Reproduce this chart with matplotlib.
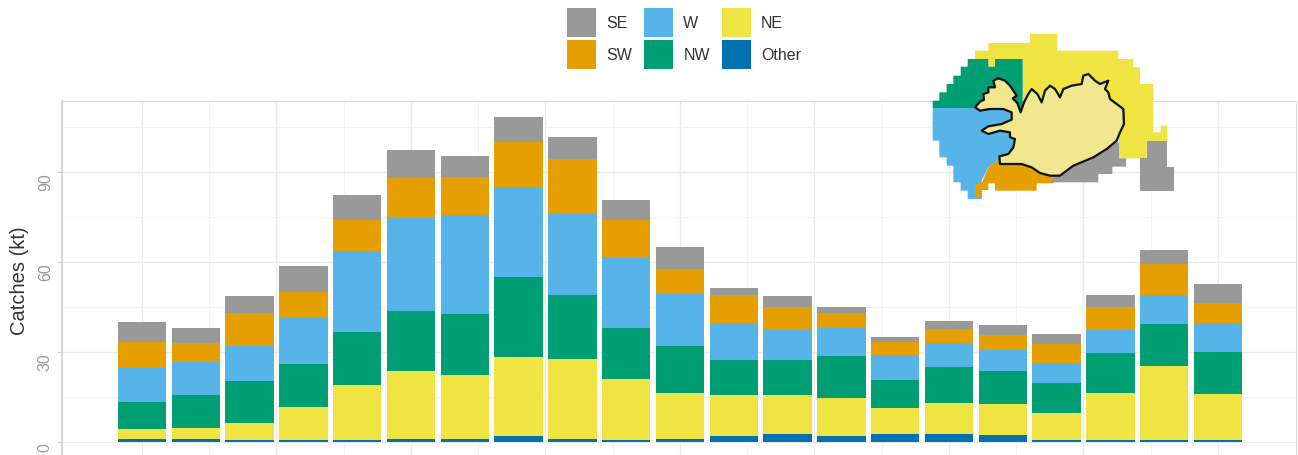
#!/usr/bin/env python3
"""Icelandic catches by region: stacked bars with a small area map on top."""
import numpy as np
import matplotlib
matplotlib.use('Agg')
import matplotlib.pyplot as plt
from matplotlib.patches import Polygon, Patch

plt.rcParams['font.family'] = ['Liberation Sans', 'DejaVu Sans']

W, H = 1298, 456

regions = ['Other', 'NE', 'NW', 'W', 'SW', 'SE']
colors = {'Other': '#0072B2', 'NE': '#F0E442', 'NW': '#009E73',
          'W': '#56B4E9', 'SW': '#E69F00', 'SE': '#999999'}

# catches per bin (kt)
other = [1.0, 1.0, 0.5, 0.5, 0.5, 1.0, 1.0, 2.0, 1.0, 0.5, 1.0,
         2.0, 2.5, 2.0, 2.7, 2.7, 2.3, 0.5, 0.7, 0.8, 0.7]
ne = [3.3, 3.6, 5.7, 11.1, 18.5, 22.7, 21.3, 26.3, 26.7, 20.5, 15.3,
      13.7, 13.2, 12.7, 8.6, 10.3, 10.4, 9.2, 15.6, 24.5, 15.3]
nw = [9.0, 10.9, 14.1, 14.4, 17.7, 20.0, 20.4, 26.7, 21.3, 17.0, 15.7,
      11.6, 11.6, 14.0, 9.4, 12.0, 11.0, 10.0, 13.4, 14.0, 14.0]
w = [11.3, 11.2, 11.7, 15.6, 26.9, 31.3, 33.0, 30.0, 27.0, 23.7, 17.3,
     12.4, 10.4, 9.3, 8.3, 8.0, 7.0, 6.6, 7.6, 9.7, 9.7]
sw = [8.8, 6.3, 11.0, 8.4, 10.4, 13.0, 12.6, 15.0, 18.3, 12.3, 8.4,
      9.3, 7.3, 5.0, 4.3, 4.7, 5.0, 6.4, 7.7, 10.3, 6.6]
se = [6.6, 5.0, 5.6, 8.6, 8.3, 9.3, 7.0, 8.3, 7.4, 6.7, 7.3,
      2.3, 3.7, 2.0, 1.7, 2.6, 3.3, 3.3, 4.0, 4.7, 6.4]
series = {'Other': other, 'NE': ne, 'NW': nw, 'W': w, 'SW': sw, 'SE': se}

y_ticks = [0, 30, 60, 90]
y_minor = [15, 45, 75, 105]
x_major = [0, 2.5, 5, 7.5, 10, 12.5, 15, 17.5, 20]

# map outlines, in the map's own units. areas run on under the land polygon
map_ne = [(165, 105), (165, 80), (205, 80), (205, 57), (330, 57), (330, 30), (412, 30), (412, 80),
          (595, 80), (595, 105), (640, 105), (640, 130), (660, 130), (660, 180), (700, 180),
          (700, 325), (722, 325), (722, 305), (742, 305), (742, 352), (680, 352), (680, 403),
          (597, 403), (597, 300), (308, 300), (308, 105), (228, 105), (225, 128), (205, 128),
          (205, 105)]
map_nw = [(38, 252), (38, 230), (58, 230), (58, 205), (80, 205), (80, 180), (100, 180), (100, 155),
          (122, 155), (122, 128), (143, 128), (143, 105), (205, 105), (205, 128), (225, 128),
          (225, 105), (308, 105), (308, 275), (280, 255), (165, 252)]
map_w = [(38, 252), (165, 252), (280, 255), (300, 300), (280, 400), (240, 405), (205, 430),
         (185, 470), (185, 525), (143, 525), (143, 500), (122, 500), (122, 475), (100, 475),
         (100, 425), (80, 425), (80, 400), (58, 400), (58, 350), (38, 350)]
map_sw = [(165, 520), (165, 478), (185, 478), (205, 430), (240, 405), (330, 400), (420, 450),
          (400, 478), (350, 478), (350, 500), (225, 500), (225, 478), (205, 478), (205, 498),
          (185, 498), (185, 522)]
map_se = [(597, 355), (597, 403), (618, 403), (618, 428), (577, 428), (577, 450), (535, 450),
          (535, 475), (390, 475), (420, 440), (500, 350)]
map_se2 = [(680, 352), (742, 352), (742, 428), (762, 428), (762, 500), (660, 500), (660, 403),
           (680, 403)]
map_land = [(165, 250), (180, 233), (192, 227), (190, 210), (205, 205), (205, 190), (225, 190),
            (220, 170), (235, 163), (255, 170), (270, 185), (280, 200), (290, 215), (278, 223),
            (292, 237), (302, 265), (312, 235), (325, 210), (335, 195), (352, 210), (365, 235),
            (375, 200), (390, 185), (405, 195), (420, 220), (430, 195), (455, 185), (485, 180),
            (490, 155), (505, 150), (525, 170), (540, 180), (565, 170), (555, 195), (565, 205),
            (570, 225), (590, 240), (610, 255), (612, 300), (600, 325), (590, 350), (560, 375),
            (520, 400), (460, 425), (420, 455), (390, 455), (360, 447), (335, 430), (305, 420),
            (240, 420), (238, 397), (265, 390), (280, 370), (285, 345), (270, 340), (270, 325),
            (240, 320), (205, 330), (185, 320), (205, 307), (245, 300), (275, 287), (275, 265),
            (250, 255), (210, 255), (180, 260)]


def axes_box(left, top, right, bottom):
    """pixel box (origin top left) -> figure fractions"""
    return [left / W, 1 - bottom / H, (right - left) / W, (bottom - top) / H]


fig = plt.figure(figsize=(W / 100, H / 100), dpi=100)
ax = fig.add_axes(axes_box(62, 102, 1296, 475))

xs = np.arange(len(other))
bottom = np.zeros(len(other))
for r in regions:
    vals = np.array(series[r])
    ax.bar(xs, vals, width=0.9, bottom=bottom, color=colors[r], zorder=3)
    bottom += vals

ax.set_xlim(-1.487, 21.45)
ax.set_ylim(-10.67, 113.67)
ax.set_yticks(y_ticks)
ax.set_yticks(y_minor, minor=True)
ax.set_xticks(x_major)
ax.set_xticks([v + 1.25 for v in x_major[:-1]], minor=True)
ax.set_xticklabels([])
ax.grid(True, which='major', color='#ebebeb', linewidth=1.0, zorder=0)
ax.grid(True, which='minor', color='#f4f4f4', linewidth=0.7, zorder=0)
ax.tick_params(which='minor', length=0)
ax.tick_params(axis='y', which='major', color='#d0d0d0', length=3.6, labelsize=11.5,
               labelcolor='#9a9a9a', pad=3)
ax.tick_params(axis='x', which='major', length=0)
for t in ax.get_yticklabels():
    t.set_rotation(90)
    t.set_va('top')
for s in ax.spines.values():
    s.set_color('#dcdcdc')
ax.spines['left'].set_color('#cfcfcf')
ax.spines['left'].set_linewidth(1.2)
ax.set_axisbelow(True)
fig.text(20 / W, 1 - 281 / H, 'Catches (kt)', rotation=90, ha='center', va='center',
         fontsize=14.5, color='#333333')

# legend on top, columns SE/SW, W/NW, NE/Other
order = ['SE', 'SW', 'W', 'NW', 'NE', 'Other']
handles = [Patch(facecolor=colors[r], edgecolor='none', label=r) for r in order]
fig.legend(handles=handles, ncol=3, loc='upper left', bbox_to_anchor=(567 / W, 1 - 9 / H),
           frameon=False, fontsize=11.5, handlelength=1.81, handleheight=2.41, handletextpad=0.65,
           columnspacing=0.74, labelspacing=0.19, borderpad=0, borderaxespad=0,
           labelcolor='#333333')

# area map, transparent so the grid shows through
inset = fig.add_axes(axes_box(920, 25, 1190, 210))
inset.set_xlim(0, 810)
inset.set_ylim(555, 0)
inset.axis('off')
for pts, col in [(map_ne, 'NE'), (map_nw, 'NW'), (map_w, 'W'), (map_sw, 'SW'),
                 (map_se, 'SE'), (map_se2, 'SE')]:
    inset.add_patch(Polygon(pts, closed=True, facecolor=colors[col], edgecolor='none'))
inset.add_patch(Polygon(map_land, closed=True, facecolor='#F1E78E', edgecolor='#111111',
                        linewidth=1.6, joinstyle='round'))

fig.savefig('out.png', dpi=100)
